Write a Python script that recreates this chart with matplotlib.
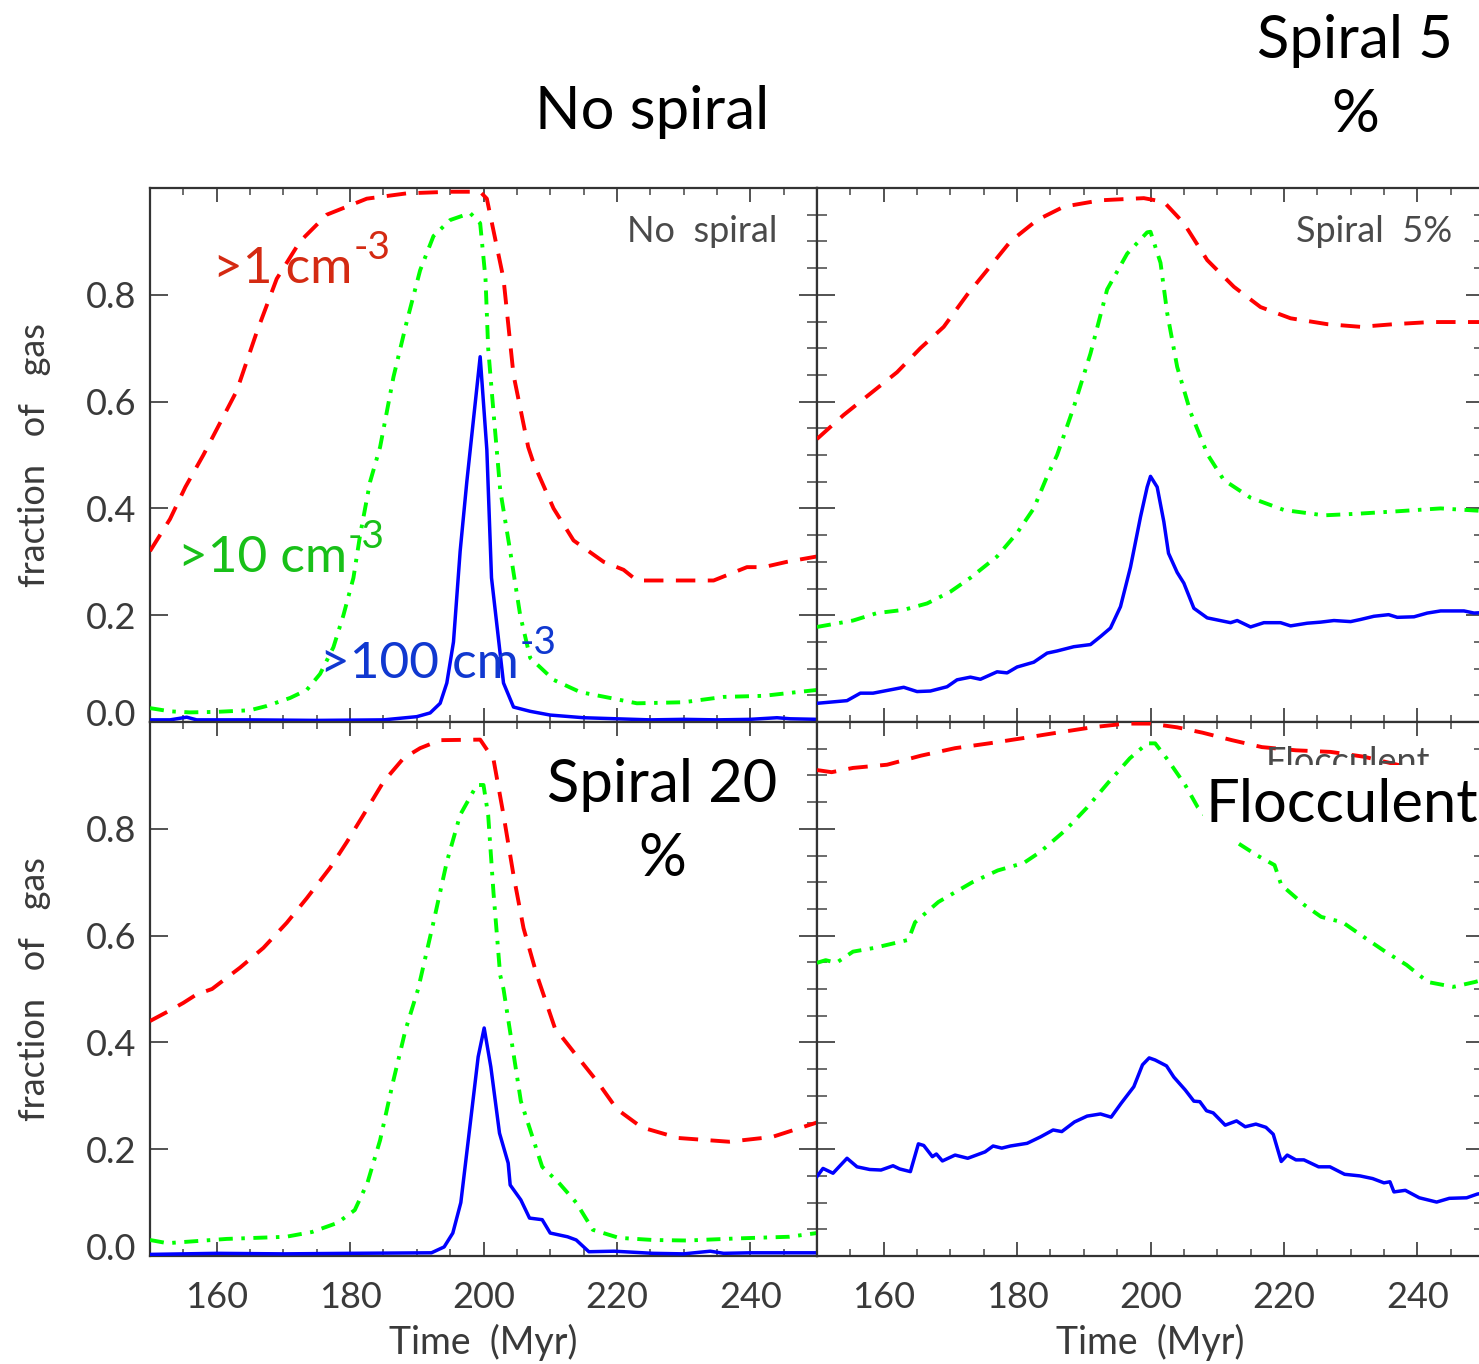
import matplotlib
matplotlib.use("Agg")
import matplotlib.pyplot as plt
from matplotlib.ticker import MultipleLocator, FuncFormatter
import matplotlib.transforms as mtransforms
from matplotlib.patches import Rectangle

# ---------------- data ----------------
# No spiral
ns_red_t = [150, 153, 155.3, 158, 160.5, 163, 166, 169, 172.5, 176.5, 182.5, 188.5, 195, 199.5, 200.5,
            203, 204.5, 206.7, 207.5, 210.5, 213.5, 218, 221, 223, 226, 230.5, 234.5, 239.5, 242, 245.5, 250]
ns_red = [0.32, 0.38, 0.44, 0.50, 0.56, 0.62, 0.73, 0.83, 0.90, 0.95, 0.98, 0.99, 0.993, 0.993, 0.98,
          0.83, 0.65, 0.515, 0.485, 0.40, 0.34, 0.30, 0.285, 0.265, 0.265, 0.265, 0.265, 0.29, 0.29, 0.30, 0.31]
ns_green_t = [150, 153, 156, 160, 165, 167.5, 171, 173.5, 175.5, 177.5, 179, 180.5, 181.5, 183, 184.5, 186.5,
              188.5, 190.5, 192.5, 195, 198, 199.5, 200.3, 200.7, 201.5, 202.5, 204, 205.5, 207, 210.5, 214.5,
              219, 223, 230, 236, 242, 247, 250]
ns_green = [0.026, 0.02, 0.018, 0.019, 0.022, 0.03, 0.045, 0.06, 0.09, 0.14, 0.20, 0.27, 0.35, 0.45, 0.515, 0.646,
            0.75, 0.846, 0.91, 0.94, 0.953, 0.934, 0.83, 0.70, 0.58, 0.435, 0.32, 0.20, 0.12, 0.079, 0.056,
            0.045, 0.035, 0.037, 0.047, 0.049, 0.056, 0.06]
ns_blue_t = [150, 153, 155.5, 157, 165, 175, 185, 190, 192, 193.5, 194.5, 195.5, 196.5, 197.5, 199.5, 200.5,
             201.2, 203, 204.5, 207, 210, 215, 220, 225, 230, 235, 240, 244, 246, 250]
ns_blue = [0.004, 0.004, 0.009, 0.004, 0.004, 0.003, 0.004, 0.01, 0.017, 0.035, 0.073, 0.15, 0.32, 0.45, 0.684, 0.51,
           0.27, 0.073, 0.028, 0.02, 0.013, 0.008, 0.006, 0.004, 0.005, 0.004, 0.005, 0.008, 0.006, 0.005]

# Spiral 5%
s5_red_t = [150, 154, 158, 162, 165.5, 169, 172.5, 175.5, 179, 183, 187, 192.5, 199, 202, 205, 208.5, 212.5,
            216.5, 221, 226.5, 231.5, 236.5, 242, 250]
s5_red = [0.53, 0.575, 0.615, 0.655, 0.70, 0.74, 0.80, 0.846, 0.90, 0.94, 0.965, 0.977, 0.981, 0.974, 0.934, 0.865,
          0.815, 0.777, 0.756, 0.745, 0.74, 0.745, 0.749, 0.749]
s5_green_t = [150, 155.4, 159, 163, 166.5, 170, 173, 177, 180, 182.5, 184.5, 186, 188.5, 191, 193.5, 196.5, 199.5,
              200, 201.5, 202.5, 204, 206, 208.6, 211, 215, 220, 226, 231, 237.5, 243.5, 250]
s5_green = [0.178, 0.19, 0.204, 0.21, 0.222, 0.244, 0.27, 0.31, 0.354, 0.40, 0.46, 0.50, 0.59, 0.69, 0.81, 0.877,
            0.917, 0.918, 0.86, 0.766, 0.665, 0.58, 0.50, 0.453, 0.42, 0.397, 0.387, 0.39, 0.395, 0.40, 0.395]
s5_blue_t = [150, 154.5, 156.5, 158.4, 163, 165, 167, 169.5, 171, 173, 174.5, 177, 178.5, 180, 182.5, 184.5, 186,
             188.5, 191, 192.5, 194, 195.5, 197, 198.5, 199.5, 200, 201, 202, 202.7, 204, 205, 206.5, 208.5,
             212, 213, 215, 217, 219.5, 221, 223.5, 225.5, 227.5, 230, 231.5, 233.5, 235.7, 237, 239.5, 241.5,
             243.5, 247, 248.5, 250]
s5_blue = [0.035, 0.04, 0.054, 0.054, 0.065, 0.057, 0.058, 0.066, 0.079, 0.084, 0.08, 0.094, 0.092, 0.103, 0.112,
           0.129, 0.133, 0.141, 0.145, 0.16, 0.176, 0.216, 0.29, 0.384, 0.44, 0.46, 0.44, 0.375, 0.316, 0.28,
           0.26, 0.213, 0.195, 0.186, 0.19, 0.178, 0.186, 0.186, 0.18, 0.185, 0.187, 0.19, 0.188, 0.192, 0.198,
           0.201, 0.196, 0.197, 0.204, 0.208, 0.208, 0.204, 0.205]

# Spiral 20%
s20_red_t = [150, 153, 155, 157, 159.3, 163.5, 167, 170.5, 173.5, 177, 179.5, 182, 185, 188, 190.5, 193.5, 199.5,
             201.5, 203, 204.5, 206, 208, 210.7, 213.9, 217.1, 220, 223.7, 229.2, 236.8, 243.3, 250]
s20_red = [0.44, 0.46, 0.474, 0.49, 0.50, 0.54, 0.577, 0.624, 0.67, 0.727, 0.775, 0.826, 0.888, 0.932, 0.951, 0.966,
           0.967, 0.93, 0.826, 0.713, 0.614, 0.526, 0.427, 0.376, 0.326, 0.275, 0.241, 0.221, 0.214, 0.223, 0.25]
s20_green_t = [150, 152.6, 161.5, 170.4, 174.3, 178.1, 180.7, 182.6, 184.5, 186.4, 188.3, 190.2, 192.5, 194.5,
               196.5, 199, 200, 200.7, 201.5, 202.5, 203, 205.6, 208.8, 211.3, 213.9, 216.4, 220.3, 225.4, 230.5,
               238.2, 245.8, 250]
s20_green = [0.03, 0.024, 0.032, 0.036, 0.045, 0.062, 0.086, 0.137, 0.217, 0.324, 0.423, 0.50, 0.625, 0.738, 0.826,
             0.882, 0.882, 0.826, 0.68, 0.526, 0.50, 0.29, 0.167, 0.137, 0.10, 0.049, 0.034, 0.03, 0.029, 0.033,
             0.036, 0.043]
s20_blue_t = [150, 160, 170, 180, 192.2, 194.1, 195.4, 196.6, 197.9, 199.2, 200.1, 201.1, 202.4, 203.7, 204, 205.6,
              206.9, 208.8, 210, 212.6, 213.9, 215.8, 219.6, 225.4, 230, 234, 236, 240, 250]
s20_blue = [0.003, 0.005, 0.004, 0.005, 0.006, 0.017, 0.043, 0.10, 0.236, 0.373, 0.427, 0.354, 0.23, 0.174, 0.133,
            0.105, 0.071, 0.068, 0.043, 0.036, 0.03, 0.008, 0.009, 0.005, 0.004, 0.009, 0.005, 0.006, 0.006]

# Flocculent
fl_red_t = [150, 152.2, 155.4, 160.5, 165.6, 170.7, 175.8, 181, 186, 191.2, 196.3, 200, 204, 207.8, 212.2, 216.7,
            221.8, 227, 232, 237, 243, 250]
fl_red = [0.91, 0.906, 0.914, 0.92, 0.937, 0.951, 0.96, 0.97, 0.98, 0.99, 0.997, 0.997, 0.99, 0.98, 0.966, 0.953,
          0.947, 0.944, 0.935, 0.92, 0.905, 0.895]
fl_green_t = [150, 151.3, 152.9, 155.4, 158.6, 163.7, 164.7, 168.2, 173.3, 177.1, 181, 183.5, 187.3, 190.5, 193.7,
              196.9, 199.5, 200.7, 202.6, 205.2, 207.1, 210, 213.5, 216, 218.6, 219.6, 223.1, 225.6, 228.8, 232.6,
              235.2, 238.4, 241.6, 245.4, 248.6, 250]
fl_green = [0.549, 0.554, 0.549, 0.57, 0.577, 0.592, 0.625, 0.663, 0.70, 0.722, 0.736, 0.757, 0.798, 0.84, 0.887,
            0.932, 0.96, 0.96, 0.929, 0.882, 0.84, 0.80, 0.77, 0.75, 0.732, 0.695, 0.657, 0.635, 0.625, 0.592,
            0.57, 0.545, 0.513, 0.504, 0.513, 0.518]
fl_blue_t = [150, 150.9, 152.4, 154.5, 156, 157.9, 159.6, 161.4, 162.4, 164, 165.2, 166, 167.3, 167.9, 168.8, 170.7,
             172.6, 175.2, 176.4, 177.7, 179, 181.5, 183.5, 185.4, 186.7, 188.6, 190.5, 192.5, 194.1, 195.6, 197.5,
             198.8, 199.8, 200.7, 202.4, 203.5, 205.2, 206.5, 207.4, 208.4, 209.4, 211.2, 212.9, 214.2, 215.8,
             217.3, 218.4, 219.6, 220.5, 221.8, 223, 225.2, 226.9, 229.1, 231.4, 233.3, 235, 235.9, 236.5, 238.2,
             240.3, 242.9, 244.8, 247.4, 249, 250]
fl_blue = [0.149, 0.164, 0.155, 0.183, 0.167, 0.162, 0.161, 0.169, 0.163, 0.158, 0.21, 0.207, 0.186, 0.191, 0.178,
           0.189, 0.183, 0.195, 0.206, 0.202, 0.206, 0.211, 0.223, 0.236, 0.233, 0.251, 0.262, 0.266, 0.26, 0.286,
           0.317, 0.358, 0.371, 0.367, 0.356, 0.335, 0.311, 0.29, 0.289, 0.272, 0.268, 0.245, 0.253, 0.242, 0.247,
           0.241, 0.228, 0.177, 0.189, 0.18, 0.18, 0.167, 0.167, 0.153, 0.15, 0.145, 0.137, 0.139, 0.12, 0.123,
           0.109, 0.101, 0.108, 0.109, 0.116, 0.118]

y_tick_labels = ['0.0', '0.2', '0.4', '0.6', '0.8']
panel_labels = ['No  spiral', 'Spiral  5%', 'Spiral  20%', 'Flocculent']
density_labels = [('>1 cm', '-3'), ('>10 cm', '-3'), ('>100 cm', '-3')]

# ---------------- figure ----------------
W, H = 1479, 1364
fig = plt.figure(figsize=(W / 100, H / 100), dpi=100)

def ax_at(x0, ytop, w, h):
    return fig.add_axes([x0 / W, (H - ytop - h) / H, w / W, h / H])

ax_tl = ax_at(150, 188, 667, 534)
ax_tr = ax_at(817, 188, 667, 534)
ax_bl = ax_at(150, 722, 667, 534)
ax_br = ax_at(817, 722, 667, 534)

RED, GREEN, BLUE = '#ff0000', '#00ff00', '#0000ff'
dash_red = (0, (5, 3.2))
dash_green = (0, (3.6, 2.2, 0.9, 2.2))
FONT = 'Lato'
TXTCOL = '#3a3a3a'

panels = [
    (ax_tl, ns_red_t, ns_red, ns_green_t, ns_green, ns_blue_t, ns_blue),
    (ax_tr, s5_red_t, s5_red, s5_green_t, s5_green, s5_blue_t, s5_blue),
    (ax_bl, s20_red_t, s20_red, s20_green_t, s20_green, s20_blue_t, s20_blue),
    (ax_br, fl_red_t, fl_red, fl_green_t, fl_green, fl_blue_t, fl_blue),
]

def yfmt(v, pos):
    i = int(round(v / 0.2))
    return y_tick_labels[i] if 0 <= i < len(y_tick_labels) else ''

for k, (ax, rt, rv, gt, gv, bt, bv) in enumerate(panels):
    ax.plot(rt, rv, color=RED, lw=2.8, linestyle=dash_red, zorder=3)
    ax.plot(gt, gv, color=GREEN, lw=2.8, linestyle=dash_green, zorder=3)
    ax.plot(bt, bv, color=BLUE, lw=2.5, zorder=4)
    ax.set_xlim(150, 250)
    ax.set_ylim(0, 1)
    ax.xaxis.set_major_locator(MultipleLocator(20))
    ax.xaxis.set_minor_locator(MultipleLocator(5))
    ax.yaxis.set_major_locator(MultipleLocator(0.2))
    ax.yaxis.set_minor_locator(MultipleLocator(0.05))
    ax.tick_params(axis='x', which='major', direction='in', length=10, width=1.3, top=True, bottom=True,
                   color='#444444', pad=18, labelsize=26, labelcolor=TXTCOL)
    ax.tick_params(axis='x', which='minor', direction='in', length=5, width=1.1, top=True, bottom=True,
                   color='#444444')
    ax.tick_params(axis='y', which='major', direction='in', length=13, width=1.3, left=True, right=True,
                   color='#444444', pad=10, labelsize=26, labelcolor=TXTCOL)
    ax.tick_params(axis='y', which='minor', direction='in', length=7, width=1.1, left=(k % 2 == 1), right=True,
                   color='#444444')
    for s in ax.spines.values():
        s.set_linewidth(1.6)
        s.set_color('#333333')
    if k % 2 == 0:
        ax.yaxis.set_major_formatter(FuncFormatter(yfmt))
    else:
        ax.tick_params(axis='y', labelleft=False)
    if k < 2:
        ax.tick_params(axis='x', labelbottom=False)
    for lab in ax.get_xticklabels() + ax.get_yticklabels():
        lab.set_fontfamily(FONT)

# small grey in-panel labels
GREY = dict(fontsize=26, color='#4a4a4a', zorder=5, family=FONT)
ax_tl.text(0.940, 0.919, panel_labels[0], transform=ax_tl.transAxes, ha='right', va='center', **GREY)
ax_tr.text(0.952, 0.919, panel_labels[1], transform=ax_tr.transAxes, ha='right', va='center', **GREY)
ax_br.text(0.919, 0.925, panel_labels[3], transform=ax_br.transAxes, ha='right', va='center', **GREY)

def ftext(x, y, s, **kw):
    return fig.text(x / W, 1 - y / H, s, **kw)

# axis labels
for yc in (455, 989):
    ftext(35, yc, 'fraction   of   gas', rotation=90, ha='center', va='center', fontsize=26,
          color=TXTCOL, family=FONT)
for xc in (483, 1150):
    ftext(xc, 1342, 'Time  (Myr)', ha='center', va='center', fontsize=27, color=TXTCOL, family=FONT)

# big titles
TITLE = dict(family=FONT, color='black', fontsize=43)
ftext(652, 112, 'No spiral', ha='center', va='center', **TITLE)
ftext(1355, 78, 'Spiral 5\n%', ha='center', va='center', multialignment='center', linespacing=1.45, **TITLE)
ftext(662, 822, 'Spiral 20\n%', ha='center', va='center', multialignment='center', linespacing=1.45, **TITLE)
# white backing behind the "Flocculent" title (hides the curves under it, as in the original)
fig.patches.append(Rectangle((1203 / W, 1 - 842 / H), (W - 1203) / W, (842 - 765) / H,
                             transform=fig.transFigure, facecolor='white', edgecolor='none', zorder=15))
ftext(1342, 805, 'Flocculent', ha='center', va='center', zorder=20, **TITLE)

# density labels with raised exponent
label_specs = [(213, 283, '#d42a12'), (178, 572, '#18c018'), (320, 678, '#1038d0')]
main_texts = []
for (x, y, c), (base, sup) in zip(label_specs, density_labels):
    t = ftext(x, y, base, ha='left', va='baseline', fontsize=37, color=c, family=FONT)
    main_texts.append((t, sup, c, y))

fig.canvas.draw()
renderer = fig.canvas.get_renderer()
for t, sup, c, y in main_texts:
    bb = t.get_window_extent(renderer)
    fig.text((bb.x1 + 1) / W, 1 - (y - 24) / H, sup, ha='left', va='baseline', fontsize=28,
             color=c, family=FONT)

# "0.0" label sits slightly above the axis, like the original
for ax in (ax_tl, ax_bl):
    for tick in ax.yaxis.get_major_ticks():
        if abs(tick.get_loc()) < 1e-9:
            tick.label1.set_transform(tick.label1.get_transform() +
                                      mtransforms.ScaledTranslation(0, 10 / 100, fig.dpi_scale_trans))

fig.savefig('out.png', dpi=100)
